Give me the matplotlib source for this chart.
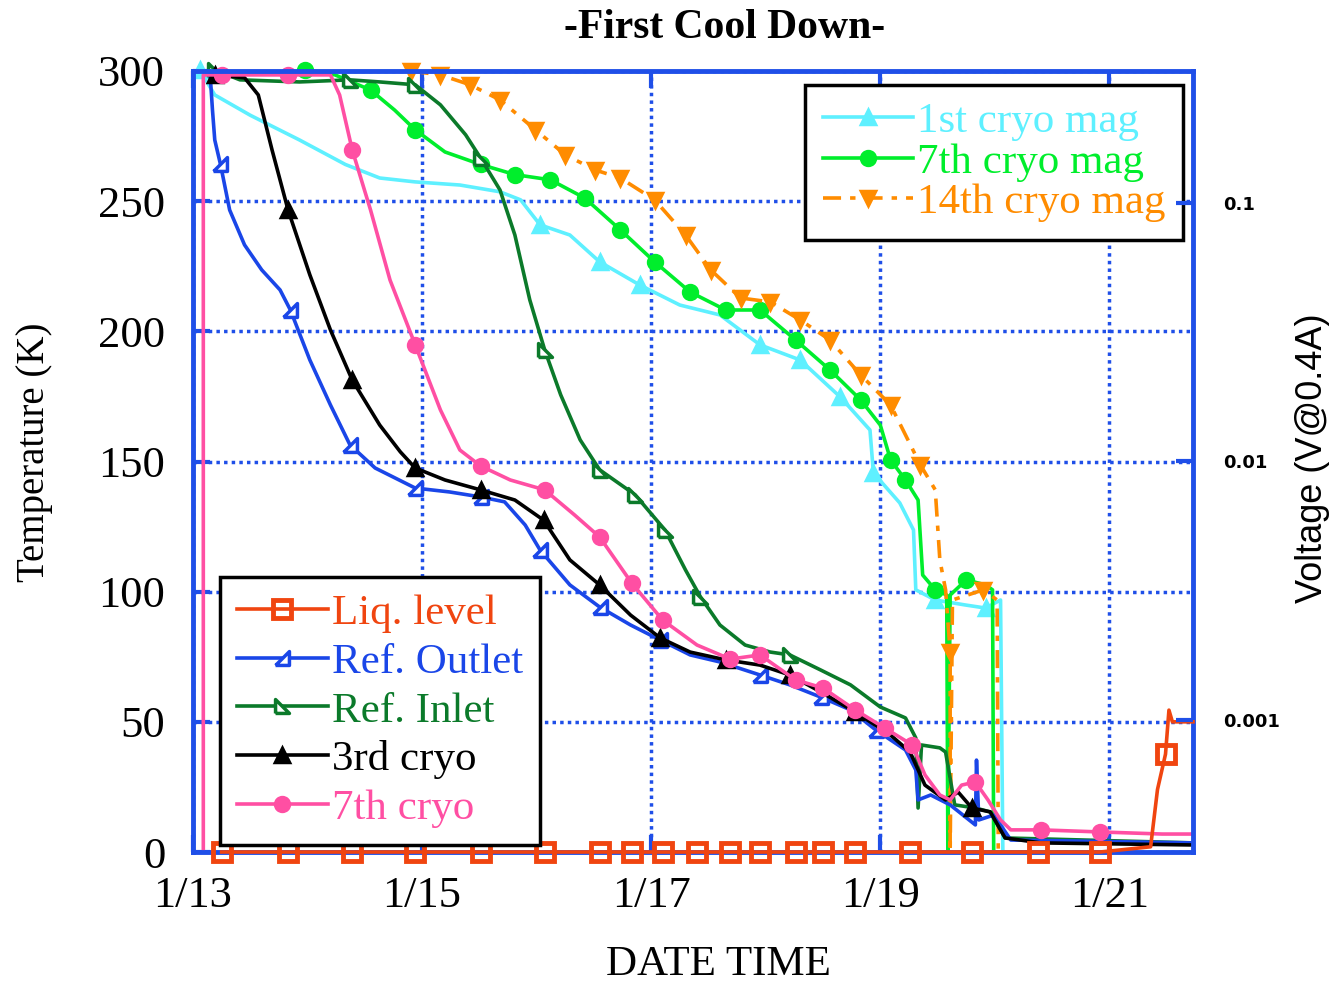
import matplotlib
matplotlib.use("Agg")
import matplotlib.pyplot as plt
from matplotlib.ticker import NullLocator, FixedLocator, FixedFormatter

# x = day of January, y = temperature (K)
liq_x = [13.25, 13.83, 14.39, 14.94, 15.51, 16.07, 16.55, 16.83, 17.10, 17.40, 17.69, 17.95,
         18.26, 18.50, 18.78, 19.26, 19.80, 20.38, 20.92, 21.36, 21.42, 21.49, 21.52, 21.55, 21.73]
liq_t = [0, 0, 0, 0, 0, 0, 0, 0, 0, 0, 0, 0,
         0, 0, 0, 0, 0, 0, 0, 2, 24, 37.6, 54.5, 50, 50]
liq_mk = list(range(19)) + [21]

out_x = [13.15, 13.17, 13.19, 13.24, 13.32, 13.45, 13.60, 13.76, 13.85, 14.02, 14.20, 14.37,
         14.59, 14.94, 15.24, 15.51, 15.72, 15.90, 16.03, 16.29, 16.55, 16.82, 17.08, 17.34,
         17.60, 17.95, 18.21, 18.48, 18.74, 18.96, 19.22, 19.31, 19.33, 19.44, 19.61, 19.83,
         19.84, 19.86, 19.99, 20.14, 21.73]
out_t = [298.5, 285, 273.5, 264.1, 246.6, 233.2, 223.6, 215.9, 208.2, 189, 171.7, 156.4,
         147.5, 139.8, 138.3, 136.4, 134.5, 125.6, 116, 102.6, 94.1, 87.2, 81.4, 75.7,
         73, 68, 64.2, 59.5, 54.6, 46.9, 39.2, 31.5, 20, 21.9, 18.1, 10.4,
         35.3, 12.3, 14.2, 4.6, 3.5]
out_mk = [3, 8, 11, 13, 15, 18, 20, 22, 25, 27, 29]

inl_x = [13.19, 13.41, 13.93, 14.37, 14.63, 14.94, 15.16, 15.38, 15.51, 15.68, 15.81, 15.94,
         16.07, 16.21, 16.38, 16.55, 16.86, 17.12, 17.30, 17.43, 17.60, 17.82, 18.04, 18.21,
         18.48, 18.74, 19.00, 19.22, 19.31, 19.33, 19.36, 19.52, 19.57, 19.65, 19.83, 19.96,
         20.09, 21.73]
inl_t = [300.4, 296.6, 295.8, 296.6, 295.8, 294.7, 287, 275.5, 266.6, 254.3, 237, 212.1,
         192.9, 175.6, 158.3, 146.8, 137.2, 123.7, 108.3, 98, 87.2, 79.5, 76.8, 75.7,
         69.9, 64.2, 55.7, 51.5, 43.8, 16.9, 41.1, 40, 38.4, 18.1, 16.9, 15.4,
         5.4, 3.5]
inl_mk = [0, 3, 5, 8, 12, 15, 16, 17, 19, 23]

c3_x = [13.19, 13.45, 13.57, 13.69, 13.83, 14.02, 14.20, 14.39, 14.63, 14.81, 14.94, 15.20,
        15.51, 15.81, 16.06, 16.29, 16.55, 16.82, 17.08, 17.34, 17.65, 17.95, 18.21, 18.48,
        18.78, 19.09, 19.26, 19.39, 19.57, 19.68, 19.80, 19.96, 20.09, 20.40, 21.73]
c3_t = [298.5, 297.4, 290.8, 269.7, 246.6, 221.7, 200.5, 181.3, 164, 153.7, 147.5, 142.9,
        139.1, 135.2, 127.5, 112.2, 102.6, 91, 82.2, 76.8, 73.8, 71.8, 68, 61.5,
        53.8, 44.9, 38.4, 25.7, 20, 23, 16.9, 15.4, 5.4, 3.5, 2.7]
c3_mk = [0, 4, 7, 10, 12, 14, 16, 18, 20, 22, 24, 30]

c7_x = [13.09, 13.09, 13.25, 13.83, 14.20, 14.28, 14.39, 14.55, 14.72, 14.94, 15.16, 15.33,
        15.51, 15.77, 16.07, 16.33, 16.55, 16.83, 17.10, 17.40, 17.69, 17.95, 18.26, 18.50,
        18.78, 19.04, 19.28, 19.39, 19.52, 19.61, 19.71, 19.83, 19.94, 20.05, 20.14, 20.40,
        20.92, 21.46, 21.73]
c7_t = [0, 298.5, 298.5, 298.5, 298.5, 290.8, 269.7, 246.6, 219.7, 194.8, 169.8, 154.4,
        148.3, 142.9, 139.1, 129.5, 121, 103.3, 89.1, 79.5, 74.1, 75.7, 66.1, 63,
        54.6, 47.6, 41.1, 29.6, 21.9, 20, 25.7, 26.9, 20, 12.3, 8.5, 8.5,
        7.7, 6.9, 6.9]
c7_mk = [2, 3, 6, 9, 12, 14, 16, 17, 18, 20, 21, 22, 23, 24, 25, 26, 31, 35, 36]

m1_x = [13.06, 13.19, 13.50, 13.93, 14.33, 14.63, 14.94, 15.33, 15.68, 15.86, 16.03, 16.29,
        16.55, 16.90, 17.25, 17.60, 17.95, 18.30, 18.65, 18.91, 18.94, 19.17, 19.29, 19.31,
        19.48, 19.74, 19.92, 20.05, 20.07]
m1_t = [300.4, 290.8, 283, 273.5, 264.1, 258.9, 257.4, 256.2, 253.6, 250.5, 240.9, 237,
        226.7, 217.8, 210.1, 206.3, 194.8, 189, 174.8, 162.1, 145.6, 134.1, 123.7, 100.7,
        96.8, 94.9, 93.7, 96.8, 0]
m1_mk = [0, 10, 12, 13, 16, 17, 18, 20, 24, 26]

m7_x = [13.98, 14.24, 14.55, 14.76, 14.94, 15.20, 15.51, 15.81, 16.12, 16.42, 16.73, 17.03,
        17.34, 17.65, 17.95, 18.26, 18.56, 18.83, 19.00, 19.09, 19.22, 19.33, 19.37, 19.48,
        19.58, 19.59, 19.61, 19.75, 19.92, 19.98, 19.99]
m7_t = [300.4, 298.5, 292.7, 285, 277.4, 268.9, 264.1, 260.2, 258.2, 251.2, 239, 226.7,
        215.1, 208.2, 208.2, 196.7, 185.2, 173.6, 164, 150.6, 142.9, 135.2, 106.4, 100.7,
        98.7, 0, 98.7, 104.5, 102.6, 100.7, 0]
m7_mk = [0, 2, 4, 6, 7, 8, 9, 10, 11, 12, 13, 14, 15, 16, 17, 19, 20, 23, 27]

m14_x = [14.90, 15.16, 15.42, 15.68, 15.99, 16.25, 16.51, 16.73, 17.03, 17.30, 17.52, 17.78,
         18.04, 18.30, 18.56, 18.83, 19.09, 19.35, 19.48, 19.52, 19.57, 19.61, 19.61, 19.63,
         19.90, 20.02, 20.03]
m14_t = [300, 298.5, 294.7, 288.9, 277.4, 267.8, 262, 258.9, 250.5, 237, 223.6, 212.8,
         211.3, 204.4, 196.7, 183.2, 171.7, 148.7, 139.1, 112.2, 100.7, 76.8, 0, 96.8,
         100.7, 96.8, 0]
m14_mk = list(range(18)) + [21, 24]

days = [13, 15, 17, 19, 21]
day_labels = ["1/13", "1/15", "1/17", "1/19", "1/21"]
temp_ticks = [0, 50, 100, 150, 200, 250, 300]
volt_ticks = [0.001, 0.01, 0.1]
volt_labels = ["0.001", "0.01", "0.1"]

BLUE = "#1f4fe8"
SERIF = "Liberation Serif"

fig = plt.figure(figsize=(13.39, 9.83), dpi=100)
ax = fig.add_axes([193 / 1339, 131 / 983, 1000 / 1339, 781 / 983])

rt_out = [(-1, -1), (1, -1), (1, 1), (-1, -1)]
rt_in = [(-1, -1), (1, -1), (-1, 1), (-1, -1)]

lw = 2.6
ms = 10
series = [
    (m1_x, m1_t, m1_mk, "1st cryo mag", "#5ef0ff", "^", "-", "full"),
    (m7_x, m7_t, m7_mk, "7th cryo mag", "#00ee2c", "o", "-", "full"),
    (m14_x, m14_t, m14_mk, "14th cryo mag", "#ff8c00", "v", (0, (5, 2.5, 1.5, 2.5)), "full"),
    (inl_x, inl_t, inl_mk, "Ref. Inlet", "#0b7a2a", rt_in, "-", "none"),
    (out_x, out_t, out_mk, "Ref. Outlet", "#1a46e8", rt_out, "-", "none"),
    (c3_x, c3_t, c3_mk, "3rd cryo", "black", "^", "-", "full"),
    (c7_x, c7_t, c7_mk, "7th cryo", "#ff4fa3", "o", "-", "full"),
]
handles = {}
for x, t, mk, label, col, marker, ls, fill in series:
    kw = dict(mfc="white") if fill == "none" else dict(mfc=col)
    h, = ax.plot(x, t, color=col, lw=lw, ls=ls, marker=marker, ms=ms, mec=col, mew=2.5,
                 markevery=mk, label=label, clip_on=False, zorder=3, **kw)
    handles[label] = h

h, = ax.plot(liq_x, liq_t, color="#f04510", lw=lw, marker="s", ms=13, mfc="none",
             mec="#f04510", mew=3.5, markevery=liq_mk, label="Liq. level", clip_on=False, zorder=5)
handles["Liq. level"] = h

ax.set_xlim(13, 21.73)
ax.set_ylim(0, 300)
ax.set_xticks(days)
ax.set_xticklabels(day_labels)
ax.set_yticks(temp_ticks)
ax.grid(True, color=BLUE, linestyle=(0, (1, 1.2)), linewidth=2.5)
ax.set_axisbelow(True)
for s in ax.spines.values():
    s.set_color(BLUE)
    s.set_linewidth(3.5)
    s.set_zorder(4)
ax.tick_params(axis="both", direction="in", length=12, width=3, color=BLUE,
               top=True, labelsize=32)
ax.tick_params(axis="x", pad=17)
ax.tick_params(axis="y", pad=20)
for lab in ax.get_xticklabels() + ax.get_yticklabels():
    lab.set_fontfamily(SERIF)

ax2 = ax.twinx()
ax2.set_yscale("log")
ax2.set_ylim(10 ** -3.513, 10 ** -0.487)
ax2.yaxis.set_major_locator(FixedLocator(volt_ticks))
ax2.yaxis.set_major_formatter(FixedFormatter(volt_labels))
ax2.yaxis.set_minor_locator(NullLocator())
ax2.tick_params(axis="y", direction="in", length=12, width=3, color=BLUE, pad=22)
for lab in ax2.get_yticklabels():
    lab.set_fontfamily("DejaVu Sans")
    lab.set_fontweight("bold")
    lab.set_fontsize(13)
for s in ax2.spines.values():
    s.set_visible(False)

leg_kw = dict(frameon=True, fancybox=False, framealpha=1, edgecolor="black",
              prop={"family": SERIF, "size": 31}, handlelength=2.1, handletextpad=0.1,
              borderpad=0.4, labelcolor="linecolor", borderaxespad=0)
low_names = ["Liq. level", "Ref. Outlet", "Ref. Inlet", "3rd cryo", "7th cryo"]
up_names = ["1st cryo mag", "7th cryo mag", "14th cryo mag"]
leg1 = ax.legend([handles[n] for n in low_names], low_names, loc="lower left",
                 bbox_to_anchor=(0.027, 0.009), labelspacing=0.22, **leg_kw)
leg1.get_frame().set_linewidth(2.5)
ax.add_artist(leg1)
leg2 = ax.legend([handles[n] for n in up_names], up_names, loc="upper right",
                 bbox_to_anchor=(0.99, 0.982), labelspacing=0.03, **leg_kw)
leg2.get_frame().set_linewidth(2.5)
leg1.set_zorder(6)
leg2.set_zorder(6)

fig.text(725 / 1339, 1 - 28 / 983, "-First Cool Down-", ha="center", va="center",
         family=SERIF, fontweight="bold", fontsize=30)
fig.text(718 / 1339, 1 - 965 / 983, "DATE TIME", ha="center", va="center",
         family=SERIF, fontsize=31)
fig.text(35 / 1339, 1 - 452 / 983, "Temperature (K)", ha="center", va="center",
         rotation=90, family=SERIF, fontsize=28)
fig.text(1312 / 1339, 1 - 458 / 983, "Voltage (V@0.4A)", ha="center", va="center",
         rotation=90, family="Liberation Sans", fontsize=26)

fig.savefig("out.png", dpi=100)
